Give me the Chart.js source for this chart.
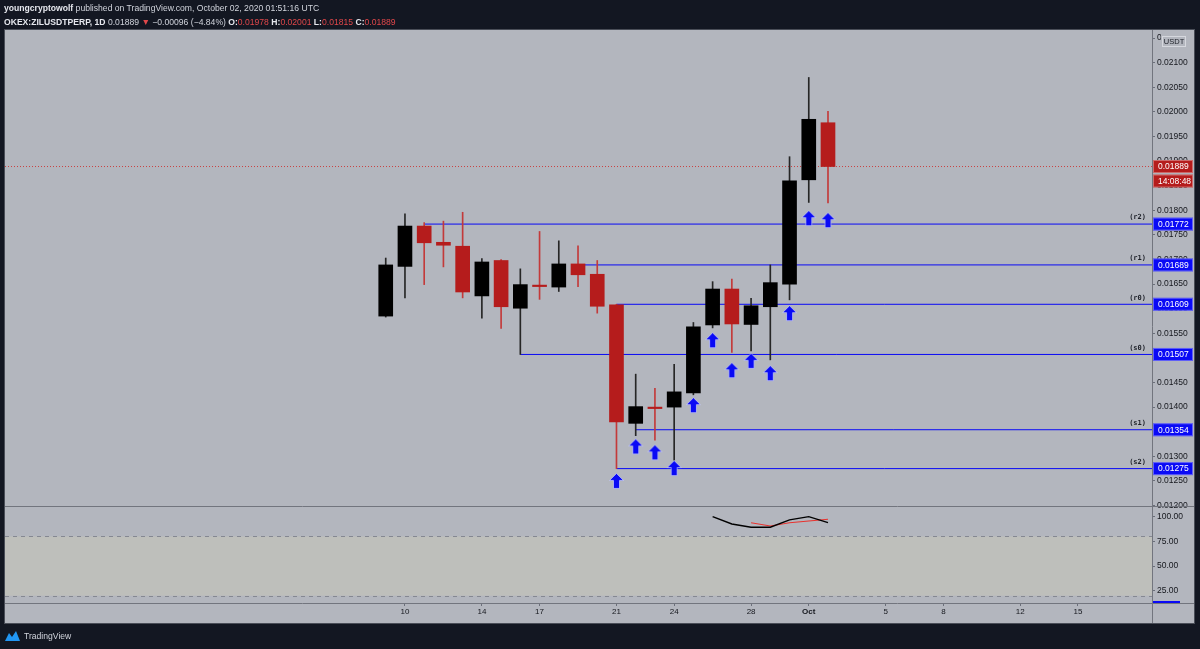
<!DOCTYPE html>
<html>
<head>
<meta charset="utf-8">
<script src="https://cdn.jsdelivr.net/npm/chart.js@4.4.0/dist/chart.umd.min.js"></script>
<style>
  html, body { margin: 0; padding: 0; background: #131722; }
  #wrap { position: relative; width: 1200px; height: 649px; overflow: hidden; }
  #charts { position: absolute; left: 0; top: 0; }
  .hdr { position: absolute; left: 4px; font-family: "Liberation Sans", Arial, sans-serif; font-size: 8.6px; line-height: 10px; color: #d1d4dc; white-space: nowrap; }
  .hdr b { color: #e6e8ee; }
  .red { color: #e0474a; }
  #foot { position: absolute; left: 4px; top: 630px; font-family: "Liberation Sans", Arial, sans-serif; font-size: 8.6px; color: #d1d4dc; display: flex; align-items: center; gap: 3px; }
</style>
</head>
<body>
<div id="wrap">
  <canvas id="charts" width="1200" height="649"></canvas>
  <div class="hdr" style="top:3px"><b>youngcryptowolf</b> published on TradingView.com, October 02, 2020 01:51:16 UTC</div>
  <div class="hdr" style="top:17px"><b>OKEX:ZILUSDTPERP, 1D</b> 0.01889 <span class="red">▼</span> −0.00096 (−4.84%) <b>O:</b><span class="red">0.01978</span> <b>H:</b><span class="red">0.02001</span> <b>L:</b><span class="red">0.01815</span> <b>C:</b><span class="red">0.01889</span></div>
  <div id="foot"><svg width="17" height="12" viewBox="0 0 17 12"><path d="M1 11 L5 3 L8 7 L12 1 L16 11 Z" fill="#2196f3"/></svg>TradingView</div>
</div>
<script>
Chart.defaults.font.family = "Liberation Sans";

// day numbers counted from Aug 31 (31 = Oct 1, 32 = Oct 2)
const candleDays = [9, 10, 11, 12, 13, 14, 15, 16, 17, 18, 19, 20, 21, 22, 23, 24, 25, 26, 27, 28, 29, 30, 31, 32];
const opens  = [0.01585, 0.01686, 0.01768, 0.01735, 0.01727, 0.01626, 0.01698, 0.01601, 0.01648, 0.01644, 0.01691, 0.01670,
                0.01608, 0.01367, 0.01400, 0.01400, 0.01429, 0.01567, 0.01640, 0.01568, 0.01604, 0.01650, 0.01862, 0.01978];
const highs  = [0.01703, 0.01793, 0.01775, 0.01778, 0.01796, 0.01702, 0.01700, 0.01681, 0.01757, 0.01738, 0.01728, 0.01698,
                0.01609, 0.01467, 0.01438, 0.01487, 0.01572, 0.01655, 0.01660, 0.01621, 0.01689, 0.01909, 0.02070, 0.02001];
const lows   = [0.01583, 0.01622, 0.01649, 0.01685, 0.01622, 0.01581, 0.01560, 0.01507, 0.01619, 0.01635, 0.01645, 0.01591,
                0.01275, 0.01342, 0.01333, 0.01292, 0.01425, 0.01561, 0.01511, 0.01514, 0.01496, 0.01618, 0.01816, 0.01815];
const closes = [0.01689, 0.01768, 0.01734, 0.01729, 0.01634, 0.01695, 0.01604, 0.01649, 0.01645, 0.01691, 0.01669, 0.01605,
                0.01370, 0.01401, 0.01397, 0.01431, 0.01563, 0.01640, 0.01569, 0.01606, 0.01653, 0.01860, 0.01985, 0.01889];

// support / resistance levels
const levelNames = ['(r2)', '(r1)', '(r0)', '(s0)', '(s1)', '(s2)'];
const levelValues = [0.01772, 0.01689, 0.01609, 0.01507, 0.01354, 0.01275];
const levelStartDays = [11, 19, 21, 16, 22, 21];

// blue arrow signals
const arrowDays = [21, 22, 23, 24, 25, 26, 27, 28, 29, 30, 31, 32];
const arrowPrices = [0.01250, 0.01320, 0.01308, 0.01276, 0.01404, 0.01536, 0.01475, 0.01494, 0.01469, 0.01591, 0.01784, 0.01780];

// stoch rsi
const kDays = [26, 27, 28, 29, 30, 31, 32];
const kValues = [100, 92.6, 89.3, 89.3, 96.7, 100, 93.9];
const dDays = [28, 29, 30, 31, 32];
const dValues = [93.9, 90.6, 93.9, 95.6, 97.4];
const bandHigh = 80;
const bandLow = 20;

const lastPrice = 0.01889;
const countdown = '14:08:48';

const timeTicks = [10, 14, 17, 21, 24, 28, 31, 35, 38, 42, 45];
const priceTicks = [0.0120, 0.0125, 0.0130, 0.0135, 0.0140, 0.0145, 0.0150, 0.0155, 0.0160, 0.0165,
                    0.0170, 0.0175, 0.0180, 0.0185, 0.0190, 0.0195, 0.0200, 0.0205, 0.0210, 0.0215];
const rsiTicks = [25, 50, 75, 100];

const X_MIN = -10.8;
const X_MAX = 48.85;

const UP = '#000000';
const DOWN = '#b51c1c';
const BLUE = '#0a0af5';

function isUp(i) { return closes[i] >= opens[i]; }

function makeArrow() {
  const c = document.createElement('canvas');
  c.width = 17; c.height = 18;
  const g = c.getContext('2d');
  g.beginPath();
  g.moveTo(8.5, 1.5); g.lineTo(15.5, 8.5); g.lineTo(11.5, 8.5); g.lineTo(11.5, 16.5);
  g.lineTo(5.5, 16.5); g.lineTo(5.5, 8.5); g.lineTo(1.5, 8.5); g.closePath();
  g.fillStyle = BLUE; g.fill();
  g.strokeStyle = 'rgba(215,220,255,0.6)'; g.lineWidth = 1; g.stroke();
  return c;
}
const arrowImg = makeArrow();

let datasets = [];

datasets.push({
  type: 'scatter',
  label: 'signals',
  data: arrowDays.map((d, i) => ({x: d, y: arrowPrices[i]})),
  pointStyle: arrowImg,
  order: 0
});

datasets.push({
  type: 'bar',
  label: 'bodies',
  data: candleDays.map((d, i) => ({x: d, y: [opens[i], closes[i]]})),
  backgroundColor: candleDays.map((d, i) => isUp(i) ? UP : DOWN),
  barThickness: 14,
  grouped: false,
  order: 1
});

datasets.push({
  type: 'bar',
  label: 'wicks',
  data: candleDays.map((d, i) => ({x: d, y: [lows[i], highs[i]]})),
  backgroundColor: candleDays.map((d, i) => isUp(i) ? '#262626' : '#c33a3a'),
  barThickness: 1,
  grouped: false,
  order: 2
});

for (let i = 0; i < levelValues.length; i++) {
  datasets.push({
    type: 'line',
    label: levelNames[i],
    data: [{x: levelStartDays[i], y: levelValues[i]}, {x: X_MAX, y: levelValues[i]}],
    borderColor: BLUE,
    borderWidth: 1,
    pointRadius: 0,
    order: 3
  });
}

datasets.push({
  type: 'line',
  label: 'last',
  data: [{x: X_MIN, y: lastPrice}, {x: X_MAX, y: lastPrice}],
  borderColor: '#c94444',
  borderWidth: 1,
  borderDash: [1, 2],
  pointRadius: 0,
  order: 4
});

datasets.push({
  type: 'line',
  label: 'K',
  data: kDays.map((d, i) => ({x: d, y: kValues[i]})),
  yAxisID: 'yRsi',
  borderColor: '#000000',
  borderWidth: 1.4,
  pointRadius: 0,
  order: 5
});

datasets.push({
  type: 'line',
  label: 'D',
  data: dDays.map((d, i) => ({x: d, y: dValues[i]})),
  yAxisID: 'yRsi',
  borderColor: '#e8332f',
  borderWidth: 1.1,
  pointRadius: 0,
  order: 6
});

function labelBox(ctx, x, y, w, text, bg) {
  ctx.fillStyle = bg;
  ctx.fillRect(x, y - 6.5, w, 13);
  ctx.strokeStyle = 'rgba(255,255,255,0.35)';
  ctx.lineWidth = 1;
  ctx.strokeRect(x + 0.5, y - 6, w - 1, 12);
  ctx.fillStyle = '#ffffff';
  ctx.textAlign = 'left';
  ctx.textBaseline = 'middle';
  ctx.fillText(text, x + 5, y + 0.5);
}

const panesPlugin = {
  id: 'panes',
  beforeDraw(chart) {
    const {ctx, chartArea: a, scales} = chart;
    ctx.save();
    ctx.fillStyle = '#131722';
    ctx.fillRect(0, 0, chart.width, chart.height);
    const right = scales.y.right;
    const bottom = scales.x.bottom;
    ctx.fillStyle = '#b3b6be';
    ctx.fillRect(a.left, a.top, right - a.left, bottom - a.top);
    const r = scales.yRsi;
    const y80 = r.getPixelForValue(bandHigh);
    const y20 = r.getPixelForValue(bandLow);
    ctx.fillStyle = '#bebfbb';
    ctx.fillRect(a.left, y80, a.right - a.left, y20 - y80);
    ctx.strokeStyle = '#858892';
    ctx.lineWidth = 1;
    ctx.setLineDash([4, 4]);
    ctx.beginPath();
    ctx.moveTo(a.left, Math.round(y80) + 0.5); ctx.lineTo(a.right, Math.round(y80) + 0.5);
    ctx.moveTo(a.left, Math.round(y20) + 0.5); ctx.lineTo(a.right, Math.round(y20) + 0.5);
    ctx.stroke();
    ctx.restore();
  },
  afterDraw(chart) {
    const {ctx, chartArea: a, scales} = chart;
    const y = scales.y;
    const right = y.right;
    const bottom = scales.x.bottom;
    ctx.save();
    // separators and frame
    ctx.strokeStyle = '#72757e';
    ctx.lineWidth = 1;
    ctx.beginPath();
    ctx.moveTo(a.left, Math.round(y.bottom) + 0.5); ctx.lineTo(right, Math.round(y.bottom) + 0.5);
    ctx.moveTo(a.left, Math.round(a.bottom) + 0.5); ctx.lineTo(right, Math.round(a.bottom) + 0.5);
    ctx.moveTo(Math.round(a.right) + 0.5, a.top); ctx.lineTo(Math.round(a.right) + 0.5, bottom);
    ctx.stroke();
    ctx.strokeStyle = '#4a4e58';
    ctx.strokeRect(a.left - 0.5, a.top - 0.5, right - a.left, bottom - a.top + 1);

    // level names
    ctx.font = 'bold 7px "DejaVu Sans Mono"';
    ctx.fillStyle = '#1c1f27';
    ctx.textAlign = 'right';
    ctx.textBaseline = 'bottom';
    for (let i = 0; i < levelNames.length; i++) {
      ctx.fillText(levelNames[i], a.right - 6, y.getPixelForValue(levelValues[i]) - 3);
    }

    // price labels on the axis
    ctx.font = '8.5px "Liberation Sans"';
    const bx = a.right + 1;
    for (let i = 0; i < levelValues.length; i++) {
      labelBox(ctx, bx, y.getPixelForValue(levelValues[i]), 40, levelValues[i].toFixed(5), BLUE);
    }
    const lp = y.getPixelForValue(lastPrice);
    labelBox(ctx, bx, lp, 40, lastPrice.toFixed(5), DOWN);
    labelBox(ctx, bx, lp + 14.5, 40, countdown, DOWN);

    // stoch rsi value marker at the bottom of its axis
    const r = scales.yRsi;
    ctx.fillStyle = BLUE;
    ctx.fillRect(a.right + 1, r.bottom - 2, 27, 2);

    // currency box (covers the top tick label like the original)
    ctx.fillStyle = '#b3b6be';
    ctx.fillRect(a.right + 9, a.top + 1, 32, 17);
    ctx.strokeStyle = '#d6d8de';
    ctx.strokeRect(a.right + 10.5, a.top + 6.5, 23, 10);
    ctx.fillStyle = '#1c1f27';
    ctx.font = '7.5px "Liberation Sans"';
    ctx.textAlign = 'center';
    ctx.textBaseline = 'middle';
    ctx.fillText('USDT', a.right + 22, a.top + 12);
    ctx.restore();
  }
};

new Chart(document.getElementById('charts'), {
  type: 'bar',
  data: { datasets: datasets },
  options: {
    responsive: false,
    animation: false,
    layout: { padding: { left: 5, top: 30, right: 5, bottom: 26 } },
    plugins: { legend: { display: false }, tooltip: { enabled: false } },
    scales: {
      x: {
        type: 'linear',
        min: X_MIN,
        max: X_MAX,
        offset: false,
        afterBuildTicks: axis => { axis.ticks = timeTicks.map(v => ({value: v})); },
        afterFit: s => { s.height = 20; },
        grid: { display: true, offset: false, drawOnChartArea: false, drawTicks: true, tickLength: 3, color: '#6b6f7a' },
        border: { display: false },
        ticks: {
          autoSkip: false,
          maxRotation: 0,
          padding: 1,
          color: '#15171d',
          font: ctx => ({ size: 8, weight: ctx.tick && ctx.tick.value === 31 ? 'bold' : 'normal' }),
          callback: v => v === 31 ? 'Oct' : (v > 31 ? String(v - 30) : String(v))
        }
      },
      y: {
        type: 'linear',
        position: 'right',
        stack: 'panes',
        stackWeight: 476,
        min: 0.01199,
        max: 0.021665,
        beginAtZero: false,
        afterBuildTicks: axis => { axis.ticks = priceTicks.map(v => ({value: v})); },
        afterFit: s => { s.width = 43; },
        grid: { display: true, drawOnChartArea: false, drawTicks: true, tickLength: 3, color: '#6b6f7a' },
        border: { display: false },
        ticks: { autoSkip: false, padding: 2, color: '#15171d', font: { size: 8.5 }, callback: v => v.toFixed(5) }
      },
      yRsi: {
        type: 'linear',
        position: 'right',
        stack: 'panes',
        stackWeight: 97,
        min: 12.6,
        max: 110.8,
        afterBuildTicks: axis => { axis.ticks = rsiTicks.map(v => ({value: v})); },
        afterFit: s => { s.width = 43; },
        grid: { display: true, drawOnChartArea: false, drawTicks: true, tickLength: 3, color: '#6b6f7a' },
        border: { display: false },
        ticks: { autoSkip: false, padding: 2, color: '#15171d', font: { size: 8.5 }, callback: v => v.toFixed(2) }
      }
    }
  },
  plugins: [panesPlugin]
});
</script>
</body>
</html>
